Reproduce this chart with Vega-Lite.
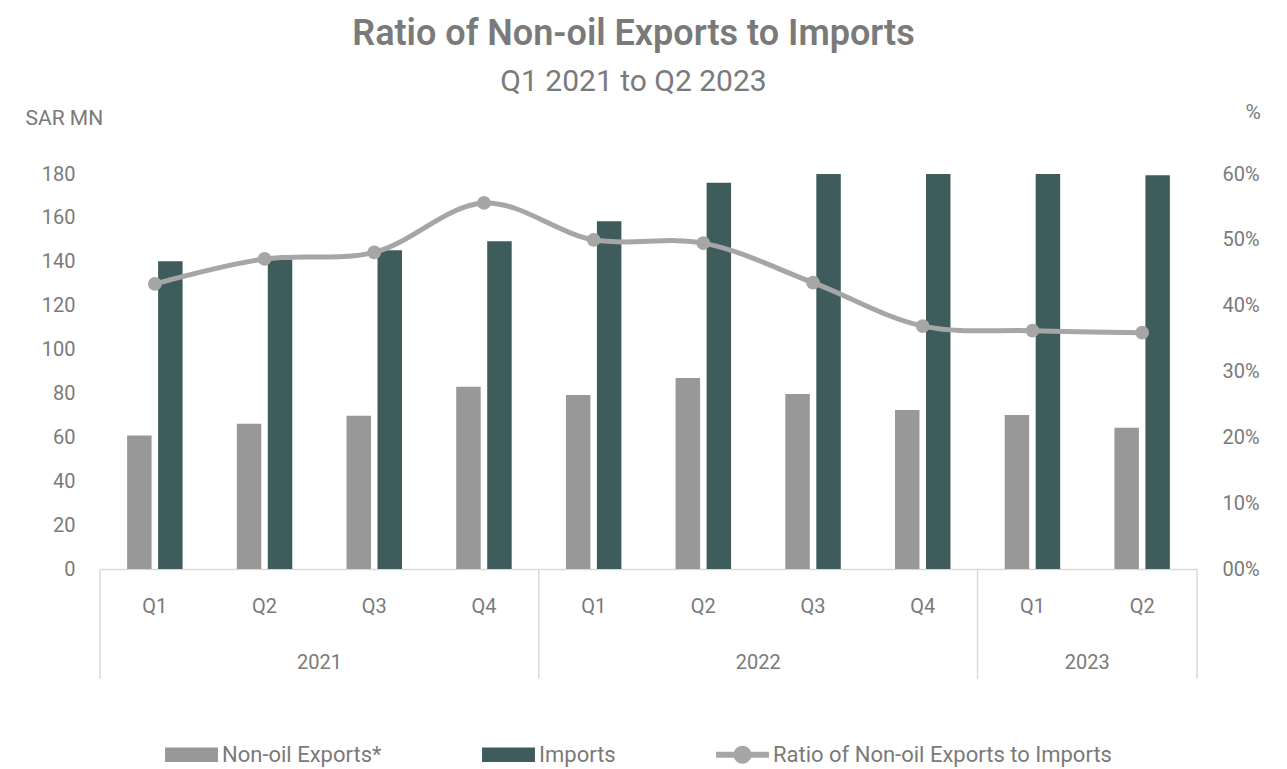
{
  "$schema": "https://vega.github.io/schema/vega-lite/v6.json",
  "width": 1097,
  "height": 395,
  "autosize": "none",
  "padding": {"left": 100, "top": 174, "right": 90, "bottom": 200},
  "background": "white",
  "config": {
    "font": "Roboto",
    "view": {"stroke": null},
    "axis": {"labelFont": "Roboto", "labelColor": "#7a7a7a", "labelFontSize": 20, "titleFont": "Roboto", "titleFontSize": 21, "titleColor": "#7a7a7a", "titleFontWeight": "normal"}
  },
  "title": {
    "text": "Ratio of Non-oil Exports to Imports",
    "subtitle": "Q1 2021 to Q2 2023",
    "font": "Roboto",
    "fontSize": 36,
    "fontWeight": 600,
    "color": "#7a7a7a",
    "subtitleFont": "Roboto",
    "subtitleFontSize": 30,
    "subtitleColor": "#7a7a7a",
    "subtitlePadding": 14,
    "anchor": "middle",
    "frame": "group",
    "dx": -15,
    "offset": 3
  },
  "datasets": {
    "bars": [
      {"period": "2021 Q1", "series": "Non-oil Exports*", "value": 60.8},
      {"period": "2021 Q2", "series": "Non-oil Exports*", "value": 66.2},
      {"period": "2021 Q3", "series": "Non-oil Exports*", "value": 69.8},
      {"period": "2021 Q4", "series": "Non-oil Exports*", "value": 83.0},
      {"period": "2022 Q1", "series": "Non-oil Exports*", "value": 79.3},
      {"period": "2022 Q2", "series": "Non-oil Exports*", "value": 87.0},
      {"period": "2022 Q3", "series": "Non-oil Exports*", "value": 79.7},
      {"period": "2022 Q4", "series": "Non-oil Exports*", "value": 72.5},
      {"period": "2023 Q1", "series": "Non-oil Exports*", "value": 70.2},
      {"period": "2023 Q2", "series": "Non-oil Exports*", "value": 64.4},
      {"period": "2021 Q1", "series": "Imports", "value": 140.2},
      {"period": "2021 Q2", "series": "Imports", "value": 141.0},
      {"period": "2021 Q3", "series": "Imports", "value": 145.2},
      {"period": "2021 Q4", "series": "Imports", "value": 149.3},
      {"period": "2022 Q1", "series": "Imports", "value": 158.5},
      {"period": "2022 Q2", "series": "Imports", "value": 176.0},
      {"period": "2022 Q3", "series": "Imports", "value": 183.0},
      {"period": "2022 Q4", "series": "Imports", "value": 196.4},
      {"period": "2023 Q1", "series": "Imports", "value": 193.5},
      {"period": "2023 Q2", "series": "Imports", "value": 179.4}
    ],
    "ratio": [
      {"period": "2021 Q1", "ratio": 0.433},
      {"period": "2021 Q2", "ratio": 0.471},
      {"period": "2021 Q3", "ratio": 0.481},
      {"period": "2021 Q4", "ratio": 0.556},
      {"period": "2022 Q1", "ratio": 0.500},
      {"period": "2022 Q2", "ratio": 0.495},
      {"period": "2022 Q3", "ratio": 0.435},
      {"period": "2022 Q4", "ratio": 0.369},
      {"period": "2023 Q1", "ratio": 0.362},
      {"period": "2023 Q2", "ratio": 0.359}
    ],
    "years": [
      {"period": "2021 Q2", "year": "2021"},
      {"period": "2022 Q2", "year": "2022"},
      {"period": "2023 Q1", "year": "2023"}
    ],
    "startSeps": [
      {"period": "2021 Q1"},
      {"period": "2022 Q1"},
      {"period": "2023 Q1"}
    ],
    "endSeps": [
      {"period": "2023 Q2"}
    ]
  },
  "layer": [
    {
      "layer": [
        {
          "data": {"name": "bars"},
          "mark": {"type": "bar", "clip": true},
          "encoding": {
            "x": {
              "field": "period",
              "type": "nominal",
              "sort": null,
              "scale": {
                "domain": ["2021 Q1", "2021 Q2", "2021 Q3", "2021 Q4", "2022 Q1", "2022 Q2", "2022 Q3", "2022 Q4", "2023 Q1", "2023 Q2"],
                "paddingInner": 0,
                "paddingOuter": 0
              },
              "axis": {
                "title": null,
                "labelExpr": "split(datum.value, ' ')[1]",
                "labelAngle": 0,
                "labelBaseline": "top",
                "ticks": false,
                "labelPadding": 27,
                "domainColor": "#d9d9d9",
                "domainWidth": 1.5
              }
            },
            "xOffset": {
              "field": "series",
              "type": "nominal",
              "scale": {"domain": ["Non-oil Exports*", "Imports"], "paddingInner": 0.21, "paddingOuter": 0.875}
            },
            "y": {
              "field": "value",
              "type": "quantitative",
              "scale": {"domain": [0, 180]},
              "axis": {
                "title": "SAR MN",
                "values": [0, 20, 40, 60, 80, 100, 120, 140, 160, 180],
                "grid": false,
                "domain": false,
                "ticks": false,
                "labelPadding": 25,
                "titleAngle": 0,
                "titleAlign": "left",
                "titleBaseline": "middle",
                "titleX": -75,
                "titleY": -56
              }
            },
            "color": {
              "field": "series",
              "type": "nominal",
              "scale": {
                "domain": ["Non-oil Exports*", "Imports", "Ratio of Non-oil Exports to Imports"],
                "range": ["#989898", "#3e5c5c", "#a6a6a6"]
              },
              "legend": {
                "orient": "none",
                "legendX": 65,
                "legendY": 554,
                "direction": "horizontal",
                "title": null,
                "padding": 0,
                "labelFont": "Roboto",
                "labelFontSize": 22,
                "labelColor": "#7a7a7a",
                "labelLimit": 500,
                "labelOffset": 4,
                "symbolSize": 2800,
                "symbolOpacity": 1,
                "symbolStrokeWidth": 0,
                "columnPadding": 100,
                "encode": {
                  "symbols": {
                    "update": {
                      "shape": {"signal": "datum.value === 'Ratio of Non-oil Exports to Imports' ? 'M-1,-0.11H1V0.11H-1Z M0.34,0A0.34,0.34,0,1,1,-0.34,0A0.34,0.34,0,1,1,0.34,0Z' : 'M-1,-0.27H1V0.27H-1Z'"},
                      "fill": {"scale": "color", "field": "value"},
                      "strokeWidth": {"value": 0}
                    }
                  }
                }
              }
            }
          }
        },
        {
          "data": {"name": "startSeps"},
          "mark": {"type": "rule", "color": "#d9d9d9", "strokeWidth": 1.5},
          "encoding": {
            "x": {"field": "period", "type": "nominal", "bandPosition": 0},
            "y": {"datum": 0, "type": "quantitative"},
            "y2": {"datum": -50}
          }
        },
        {
          "data": {"name": "endSeps"},
          "mark": {"type": "rule", "color": "#d9d9d9", "strokeWidth": 1.5},
          "encoding": {
            "x": {"field": "period", "type": "nominal", "bandPosition": 1},
            "y": {"datum": 0, "type": "quantitative"},
            "y2": {"datum": -50}
          }
        },
        {
          "data": {"name": "years"},
          "mark": {"type": "text", "font": "Roboto", "fontSize": 20, "color": "#7a7a7a", "baseline": "middle", "align": "center"},
          "encoding": {
            "x": {"field": "period", "type": "nominal", "bandPosition": 1},
            "y": {"datum": -43, "type": "quantitative"},
            "text": {"field": "year"}
          }
        }
      ]
    },
    {
      "data": {"name": "ratio"},
      "encoding": {
        "x": {"field": "period", "type": "nominal"},
        "y": {
          "field": "ratio",
          "type": "quantitative",
          "scale": {"domain": [0, 0.6]},
          "axis": {
            "orient": "right",
            "title": "%",
            "values": [0, 0.1, 0.2, 0.3, 0.4, 0.5, 0.6],
            "labelExpr": "datum.value == 0 ? '00%' : format(datum.value, '.0%')",
            "grid": false,
            "domain": false,
            "ticks": false,
            "labelPadding": 25,
            "titleAngle": 0,
            "titleAlign": "left",
            "titleBaseline": "middle",
            "titleX": 48,
            "titleY": -62
          }
        },
        "color": {"datum": "Ratio of Non-oil Exports to Imports"}
      },
      "layer": [
        {"mark": {"type": "line", "interpolate": "catmull-rom", "strokeWidth": 5}},
        {"mark": {"type": "point", "filled": true, "size": 190, "opacity": 1}}
      ]
    }
  ],
  "resolve": {"scale": {"y": "independent"}}
}
